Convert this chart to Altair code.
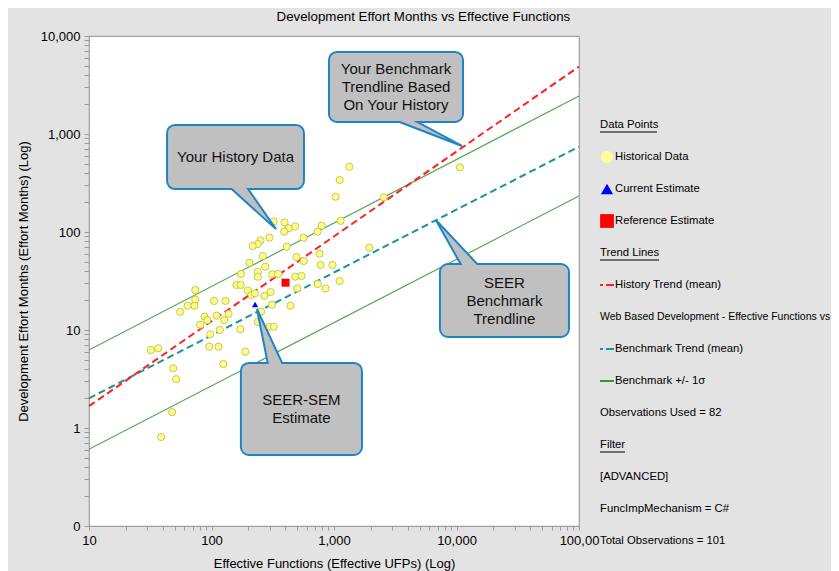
import altair as alt
import pandas as pd

FONT = "Liberation Sans"

# ---------------- data ----------------
# Historical data points (Effective UFPs, Effort Months)
hist_x = [1334, 1112, 1031, 2547, 10660, 1132, 322, 394, 427, 482,
          392, 792, 734, 564, 297, 251, 239, 217, 411, 1945,
          262, 494, 762, 566, 204, 275, 776, 972, 174, 239,
          239, 313, 350, 482, 543, 1112, 160, 173, 73.7, 198,
          737, 853, 501, 212, 226, 270, 303, 73.7, 63.9, 72.6,
          55.6, 105, 130, 87.7, 92.4, 80.8, 110, 127, 138, 117,
          97.6, 172, 95.9, 114, 189, 125, 32.0, 36.7, 48.7, 51.5,
          47.7, 38.8, 311, 442, 254, 239, 297, 322]
hist_y = [463, 340, 229, 226, 457, 130, 128, 125, 109, 114,
          101, 116, 101, 87.5, 87.5, 81.9, 75.4, 72.0, 70.8, 69.2,
          56.9, 55.6, 60.1, 50.6, 48.6, 44.3, 46.1, 46.1, 37.3, 39.3,
          35.0, 37.0, 37.3, 35.0, 35.6, 31.6, 28.8, 28.8, 25.6, 25.3,
          29.5, 26.5, 26.6, 22.8, 23.7, 22.3, 24.4, 20.4, 17.7, 17.7,
          15.3, 19.8, 19.8, 13.7, 12.6, 11.3, 14.0, 12.6, 14.6, 10.0,
          9.04, 10.2, 6.76, 6.76, 6.01, 4.50, 6.25, 6.50, 4.07, 3.15,
          1.45, 0.81, 18.1, 17.7, 15.4, 12.1, 10.8, 10.8]

current_x = [227]
current_y = [18.2]
reference_x = [402]
reference_y = [30.4]

# Trend lines (end points at the x-domain limits)
trend_x = [10, 100000]
history_trend = [1.67, 4870]
bench_trend = [2.01, 741]
bench_upper = [6.25, 2443]
bench_lower = [0.607, 233]

# Callouts (data coordinates)
callout_text = ["Your History Data",
                "Your Benchmark\nTrendline Based\nOn Your History",
                "SEER\nBenchmark\nTrendline",
                "SEER-SEM\nEstimate"]
box_x1 = [44.2, 927, 7464, 177]
box_x2 = [558, 11090, 81280, 1660]
box_y1 = [1208, 6710, 46.0, 4.50]
box_y2 = [281, 1359, 8.69, 0.543]
ptr_base_y = [316, 1527, 40.9, 4.0]
ptr_base_x1 = [129, 2557, 11510, 294]
ptr_base_x2 = [184, 3873, 16440, 398]
ptr_tip_x = [336, 11090, 6808, 235]
ptr_tip_y = [107, 755, 132, 16.4]

# Legend entries
legend_labels = ["Data Points", "Historical Data", "Current Estimate", "Reference Estimate",
                 "Trend Lines", "History Trend (mean)",
                 "Web Based Development - Effective Functions vs",
                 "Benchmark Trend (mean)", "Benchmark +/- 1\u03c3", "Observations Used = 82",
                 "Filter", "[ADVANCED]", "FuncImpMechanism = C#", "Total Observations = 101"]
legend_kind = ["heading", "circle", "triangle", "square", "heading", "reddash", "long",
               "tealdash", "greenline", "text", "heading", "text", "text", "text"]

x_decades = [10, 100, 1000, 10000]
y_decades = [1, 10, 100, 1000, 10000]

# ---------------- tables ----------------
hist_df = pd.DataFrame({"x": hist_x, "y": hist_y})
cur_df = pd.DataFrame({"x": current_x, "y": current_y})
ref_df = pd.DataFrame({"x": reference_x, "y": reference_y})

trend_rows = []
for name, ys in [("history", history_trend), ("bench", bench_trend),
                 ("upper", bench_upper), ("lower", bench_lower)]:
    for xv, yv in zip(trend_x, ys):
        trend_rows.append({"series": name, "x": xv, "y": yv})
trend_df = pd.DataFrame(trend_rows)

box_df = pd.DataFrame({"id": range(4), "text": callout_text, "x": box_x1, "x2": box_x2,
                       "y": box_y1, "y2": box_y2,
                       "nlines": [t.count("\n") + 1 for t in callout_text]})
ptr_rows = []
for k in range(4):
    ptr_rows.append({"id": k, "y": ptr_base_y[k], "x": ptr_base_x1[k], "x2": ptr_base_x2[k]})
    ptr_rows.append({"id": k, "y": ptr_tip_y[k], "x": ptr_tip_x[k], "x2": ptr_tip_x[k]})
ptr_df = pd.DataFrame(ptr_rows)

leg_df = pd.DataFrame({"i": list(range(len(legend_labels))), "label": legend_labels,
                       "kind": legend_kind})

minor_x = [round(k * 10 ** d, 4) for d in range(1, 5) for k in range(1, 10)] + [100000]
minor_y = [round(k * 10 ** d, 4) for d in range(-1, 4) for k in range(1, 10)] + [10000]


def is_one_of(vals):
    return "(" + " || ".join("datum.value == %s" % v for v in vals) + ")"


# ---------------- axes / encodings ----------------
X_TITLE = "Effective Functions (Effective UFPs) (Log)"
Y_TITLE = "Development Effort Months (Effort Months) (Log)"

x_axis = alt.Axis(values=minor_x,
                  labelExpr="%s ? format(datum.value, ',') : (datum.value == 100000 ? '100,00' : '')" % is_one_of(x_decades),
                  tickSize=4, tickColor="#9a9a9a", domain=False, grid=False,
                  labelFont=FONT, labelFontSize=13, labelColor="black", labelPadding=4,
                  labelFlush=False, labelOverlap=False,
                  titleFont=FONT, titleFontSize=13, titleFontWeight="normal",
                  titleColor="black", titlePadding=10)
y_axis = alt.Axis(values=minor_y,
                  labelExpr="datum.value == 0.1 ? '0' : (%s ? format(datum.value, ',') : '')" % is_one_of(y_decades),
                  tickSize=5, tickColor="#9a9a9a", domain=False, grid=False,
                  labelFont=FONT, labelFontSize=13, labelColor="black", labelPadding=4,
                  labelFlush=False, labelOverlap=False,
                  titleFont=FONT, titleFontSize=13, titleFontWeight="normal",
                  titleColor="black", titlePadding=10)

xs = alt.Scale(type="log", domain=[10, 100000], nice=False)
ys_ = alt.Scale(type="log", domain=[0.1, 10000], nice=False)


def X(field="x"):
    return alt.X(f"{field}:Q", scale=xs, axis=x_axis, title=X_TITLE)


def Y(field="y"):
    return alt.Y(f"{field}:Q", scale=ys_, axis=y_axis, title=Y_TITLE)


# ---------------- main plot layers ----------------
green_lines = alt.Chart(trend_df).transform_filter(
    "datum.series == 'upper' || datum.series == 'lower'"
).mark_line(color="#55aa55", strokeWidth=1.2).encode(x=X(), y=Y(), detail="series:N")

teal_line = alt.Chart(trend_df).transform_filter("datum.series == 'bench'").mark_line(
    color="#1a9494", strokeWidth=2, strokeDash=[7, 4]).encode(x=X(), y=Y())

red_line = alt.Chart(trend_df).transform_filter("datum.series == 'history'").mark_line(
    color="#ff2020", strokeWidth=2, strokeDash=[7, 4]).encode(x=X(), y=Y())

points = alt.Chart(hist_df).mark_circle(size=52, fill="#ffff88", stroke="#b8b84a",
                                        strokeWidth=0.8, opacity=1).encode(x=X(), y=Y())

current = alt.Chart(cur_df).mark_point(shape="triangle-up", filled=True, size=40,
                                       color="#0000ff", opacity=1).encode(x=X(), y=Y())

reference = alt.Chart(ref_df).mark_square(size=64, color="#ff0000", opacity=1).encode(x=X(), y=Y())

BOX_FILL = "#c0c0c0"
BOX_EDGE = "#1e84c8"

shadow = alt.Chart(box_df).mark_rect(cornerRadius=7, fill="black", opacity=0.22,
                                     xOffset=4, yOffset=4).encode(
    x=X(), x2="x2:Q", y=Y(), y2="y2:Q")
border = alt.Chart(box_df).mark_rect(cornerRadius=7, fill=BOX_FILL, stroke=BOX_EDGE,
                                     strokeWidth=4).encode(x=X(), x2="x2:Q", y=Y(), y2="y2:Q")
pointer = alt.Chart(ptr_df).mark_area(orient="horizontal", fill=BOX_FILL, stroke=BOX_EDGE,
                                      strokeWidth=2, opacity=1).encode(
    y=Y(), x=X(), x2="x2:Q", detail="id:N")
cover = alt.Chart(box_df).mark_rect(cornerRadius=7, fill=BOX_FILL).encode(
    x=X(), x2="x2:Q", y=Y(), y2="y2:Q")

LINE_H = 18
text_layers = []
for n in (1, 2, 3):
    text_layers.append(
        alt.Chart(box_df).transform_filter(alt.datum.nlines == n).transform_calculate(
            cx="sqrt(datum.x * datum.x2)", cy="sqrt(datum.y * datum.y2)"
        ).mark_text(font=FONT, fontSize=15, lineHeight=LINE_H, lineBreak="\n", align="center",
                    baseline="middle", dy=-(n - 1) * LINE_H / 2, color="#111111").encode(
            x=X("cx"), y=Y("cy"), text="text:N"))

main = alt.layer(green_lines, teal_line, red_line, points, current, reference,
                 shadow, border, pointer, cover, *text_layers).properties(
    width=490, height=490,
    view=alt.ViewBackground(fill="white", stroke="#a0a0a0", strokeWidth=1.2))

# ---------------- legend panel ----------------
LY = alt.Y("i:Q", scale=alt.Scale(domain=[0, 13], range=[89, 505]), axis=None)
lbase = alt.Chart(leg_df)
LEG_FS = 11.3
TX = 21     # text start for plain rows
SX = 28     # symbol centre
STX = 36    # text start after a symbol

plain_text = lbase.transform_filter(
    "datum.kind == 'heading' || datum.kind == 'text'"
).mark_text(align="left", baseline="middle", font=FONT, fontSize=LEG_FS,
            color="black").encode(x=alt.value(TX), y=LY, text="label:N")
long_text = lbase.transform_filter("datum.kind == 'long'").mark_text(
    align="left", baseline="middle", font=FONT, fontSize=10.5,
    color="black").encode(x=alt.value(TX), y=LY, text="label:N")
sym_text = lbase.transform_filter(
    "datum.kind != 'heading' && datum.kind != 'text' && datum.kind != 'long'"
).mark_text(align="left", baseline="middle", font=FONT, fontSize=LEG_FS,
            color="black").encode(x=alt.value(STX), y=LY, text="label:N")

sym_circle = lbase.transform_filter("datum.kind == 'circle'").mark_point(
    shape="circle", filled=True, size=150, color="#ffff99", opacity=1).encode(x=alt.value(SX), y=LY)
sym_tri = lbase.transform_filter("datum.kind == 'triangle'").mark_point(
    shape="triangle-up", filled=True, size=150, color="#0000ff", opacity=1).encode(x=alt.value(SX), y=LY)
sym_sq = lbase.transform_filter("datum.kind == 'square'").mark_point(
    shape="square", filled=True, size=190, color="#ff0000", opacity=1).encode(x=alt.value(SX), y=LY)
sym_red = lbase.transform_filter("datum.kind == 'reddash'").mark_point(
    shape="stroke", filled=False, size=196, stroke="#ff2020", strokeWidth=2,
    strokeDash=[3, 3, 8], opacity=1).encode(x=alt.value(SX), y=LY)
sym_teal = lbase.transform_filter("datum.kind == 'tealdash'").mark_point(
    shape="stroke", filled=False, size=196, stroke="#1a9494", strokeWidth=2,
    strokeDash=[3, 3, 8], opacity=1).encode(x=alt.value(SX), y=LY)
sym_green = lbase.transform_filter("datum.kind == 'greenline'").mark_point(
    shape="stroke", filled=False, size=196, stroke="#339933", strokeWidth=2,
    opacity=1).encode(x=alt.value(SX), y=LY)

ul_layers = []
for lab, w in [("Data Points", 57), ("Trend Lines", 59), ("Filter", 25)]:
    ul_layers.append(
        lbase.transform_filter(alt.datum.label == lab).mark_rule(
            color="black", strokeWidth=1, yOffset=7).encode(
            x=alt.value(TX), x2=alt.value(TX + w), y=LY))

legend = alt.layer(plain_text, long_text, sym_text, sym_circle, sym_tri, sym_sq, sym_red,
                   sym_teal, sym_green, *ul_layers).properties(
    width=240, height=490,
    view=alt.ViewBackground(strokeOpacity=0, fillOpacity=0))

chart = alt.hconcat(main, legend, spacing=0, bounds="flush").properties(
    title=alt.TitleParams(text="Development Effort Months vs Effective Functions",
                          font=FONT, fontSize=13.3, fontWeight="normal", color="black",
                          anchor="middle", offset=6)
).configure(
    background="#e3e3e3",
    padding={"left": 8, "top": 2, "right": 0, "bottom": 0},
    font=FONT,
).resolve_scale(y="independent")

chart.save("out.html", embed_options={"renderer": "svg", "actions": False})
